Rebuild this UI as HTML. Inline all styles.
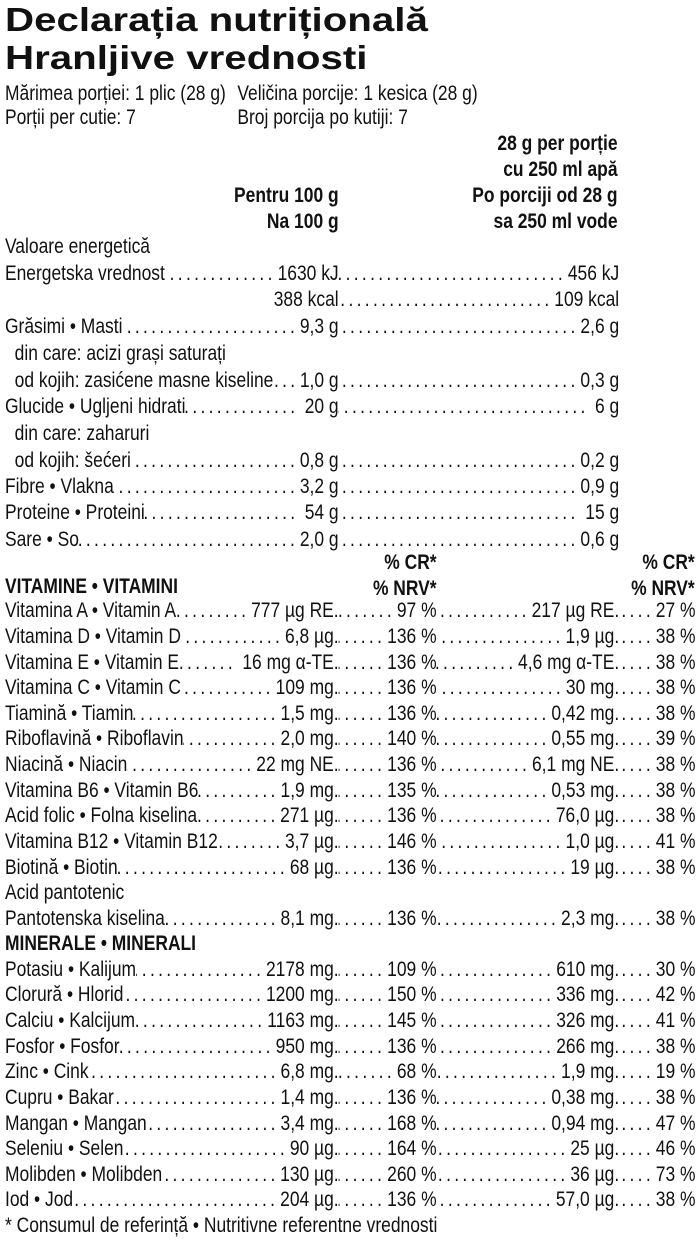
<!DOCTYPE html>
<html><head><meta charset="utf-8"><style>
body{margin:0;width:700px;height:1243px;background:#fff;position:relative;overflow:hidden;color:#111;font-family:"Liberation Sans",sans-serif}
.t{position:absolute;left:5px;font-weight:bold;font-size:33px;line-height:38px;transform:scaleX(1.22);transform-origin:0 0;white-space:nowrap}
#c{position:absolute;left:0;top:0;width:843px;height:1243px;transform:scaleX(0.83);transform-origin:0 0;font-size:21px}
.r{position:absolute;left:0;width:843px;height:26px;line-height:26px;white-space:nowrap}
.r>div{position:absolute;top:0;display:flex;height:26px}
.b1{left:6px;width:402px}.b2{left:408px;width:118px}.b3{left:526px;width:220px}.b4{left:746px;width:92px}.bw{left:408px;width:338px}
i{flex:1;overflow:hidden;font-style:normal;text-align:right;direction:rtl;letter-spacing:4px;padding:0 2px}
i::before{content:".........................................................................................."}
.p{position:absolute;left:6px}
.h{position:absolute;font-weight:bold;text-align:right;line-height:26px}
</style></head><body>
<div class="t" style="top:1px">Declarația nutrițională</div>
<div class="t" style="top:39px">Hranljive vrednosti</div>
<div id="c">
<div class="r" style="top:81px"><span class="p">Mărimea porției: 1 plic (28 g)</span><span style="position:absolute;left:286px">Veličina porcije: 1 kesica (28 g)</span></div>
<div class="r" style="top:105px"><span class="p">Porții per cutie: 7</span><span style="position:absolute;left:286px">Broj porcija po kutiji: 7</span></div>
<div class="h" style="right:99px;top:131px">28 g per porție<br>cu 250 ml apă<br>Po porciji od 28 g<br>sa 250 ml vode</div>
<div class="h" style="right:435px;top:183px">Pentru 100 g<br>Na 100 g</div>
<div class="r" style="top:234px"><span class="p">Valoare energetică</span></div>
<div class="r" style="top:261px"><div class="b1"><span>Energetska vrednost</span><i></i><span>1630 kJ</span></div><div class="bw"><i></i><span>456 kJ</span></div></div>
<div class="r" style="top:287px"><div class="b1"><span></span><i style="visibility:hidden"></i><span>388 kcal</span></div><div class="bw"><i></i><span>109 kcal</span></div></div>
<div class="r" style="top:314px"><div class="b1"><span>Grăsimi • Masti</span><i></i><span>9,3 g</span></div><div class="bw"><i></i><span>2,6 g</span></div></div>
<div class="r" style="top:341px"><span class="p">&nbsp;&nbsp;din care: acizi grași saturați</span></div>
<div class="r" style="top:368px"><div class="b1"><span>&nbsp;&nbsp;od kojih: zasićene masne kiseline</span><i></i><span>1,0 g</span></div><div class="bw"><i></i><span>0,3 g</span></div></div>
<div class="r" style="top:394px"><div class="b1"><span>Glucide • Ugljeni hidrati</span><i></i><span>&nbsp;20 g</span></div><div class="bw"><i></i><span>&nbsp;6 g</span></div></div>
<div class="r" style="top:421px"><span class="p">&nbsp;&nbsp;din care: zaharuri</span></div>
<div class="r" style="top:448px"><div class="b1"><span>&nbsp;&nbsp;od kojih: šećeri</span><i></i><span>0,8 g</span></div><div class="bw"><i></i><span>0,2 g</span></div></div>
<div class="r" style="top:474px"><div class="b1"><span>Fibre • Vlakna</span><i></i><span>3,2 g</span></div><div class="bw"><i></i><span>0,9 g</span></div></div>
<div class="r" style="top:500px"><div class="b1"><span>Proteine • Proteini</span><i></i><span>&nbsp;54 g</span></div><div class="bw"><i></i><span>&nbsp;15 g</span></div></div>
<div class="r" style="top:527px"><div class="b1"><span>Sare • So</span><i></i><span>2,0 g</span></div><div class="bw"><i></i><span>0,6 g</span></div></div>
<div class="h" style="right:317px;top:550px">% CR*<br>% NRV*</div>
<div class="h" style="right:6px;top:550px">% CR*<br>% NRV*</div>
<div class="r" style="top:574px;font-weight:bold"><span class="p">VITAMINE • VITAMINI</span></div>

<div class="r" style="top:598px"><div class="b1"><span>Vitamina A • Vitamin A</span><i></i><span>777 µg RE.</span></div><div class="b2"><i></i><span>97 %</span></div><div class="b3"><i></i><span>217 µg RE.</span></div><div class="b4"><i></i><span>27 %</span></div></div>
<div class="r" style="top:624px"><div class="b1"><span>Vitamina D • Vitamin D</span><i></i><span>6,8 µg.</span></div><div class="b2"><i></i><span>136 %</span></div><div class="b3"><i></i><span>1,9 µg.</span></div><div class="b4"><i></i><span>38 %</span></div></div>
<div class="r" style="top:650px"><div class="b1"><span>Vitamina E • Vitamin E</span><i></i><span>&nbsp;16 mg α-TE.</span></div><div class="b2"><i></i><span>136 %</span></div><div class="b3"><i></i><span>4,6 mg α-TE.</span></div><div class="b4"><i></i><span>38 %</span></div></div>
<div class="r" style="top:675px"><div class="b1"><span>Vitamina C • Vitamin C</span><i></i><span>109 mg.</span></div><div class="b2"><i></i><span>136 %</span></div><div class="b3"><i></i><span>30 mg.</span></div><div class="b4"><i></i><span>38 %</span></div></div>
<div class="r" style="top:701px"><div class="b1"><span>Tiamină • Tiamin</span><i></i><span>1,5 mg.</span></div><div class="b2"><i></i><span>136 %</span></div><div class="b3"><i></i><span>0,42 mg.</span></div><div class="b4"><i></i><span>38 %</span></div></div>
<div class="r" style="top:726px"><div class="b1"><span>Riboflavină • Riboflavin</span><i></i><span>2,0 mg.</span></div><div class="b2"><i></i><span>140 %</span></div><div class="b3"><i></i><span>0,55 mg.</span></div><div class="b4"><i></i><span>39 %</span></div></div>
<div class="r" style="top:752px"><div class="b1"><span>Niacină • Niacin</span><i></i><span>22 mg NE.</span></div><div class="b2"><i></i><span>136 %</span></div><div class="b3"><i></i><span>6,1 mg NE.</span></div><div class="b4"><i></i><span>38 %</span></div></div>
<div class="r" style="top:778px"><div class="b1"><span>Vitamina B6 • Vitamin B6</span><i></i><span>1,9 mg.</span></div><div class="b2"><i></i><span>135 %</span></div><div class="b3"><i></i><span>0,53 mg.</span></div><div class="b4"><i></i><span>38 %</span></div></div>
<div class="r" style="top:803px"><div class="b1"><span>Acid folic • Folna kiselina</span><i></i><span>271 µg.</span></div><div class="b2"><i></i><span>136 %</span></div><div class="b3"><i></i><span>76,0 µg.</span></div><div class="b4"><i></i><span>38 %</span></div></div>
<div class="r" style="top:829px"><div class="b1"><span>Vitamina B12 • Vitamin B12</span><i></i><span>3,7 µg.</span></div><div class="b2"><i></i><span>146 %</span></div><div class="b3"><i></i><span>1,0 µg.</span></div><div class="b4"><i></i><span>41 %</span></div></div>
<div class="r" style="top:855px"><div class="b1"><span>Biotină • Biotin</span><i></i><span>68 µg.</span></div><div class="b2"><i></i><span>136 %</span></div><div class="b3"><i></i><span>19 µg.</span></div><div class="b4"><i></i><span>38 %</span></div></div>
<div class="r" style="top:880px"><span class="p">Acid pantotenic</span></div>
<div class="r" style="top:906px"><div class="b1"><span>Pantotenska kiselina</span><i></i><span>8,1 mg.</span></div><div class="b2"><i></i><span>136 %</span></div><div class="b3"><i></i><span>2,3 mg.</span></div><div class="b4"><i></i><span>38 %</span></div></div>
<div class="r" style="top:931px;font-weight:bold"><span class="p">MINERALE • MINERALI</span></div>
<div class="r" style="top:957px"><div class="b1"><span>Potasiu • Kalijum</span><i></i><span>2178 mg.</span></div><div class="b2"><i></i><span>109 %</span></div><div class="b3"><i></i><span>610 mg.</span></div><div class="b4"><i></i><span>30 %</span></div></div>
<div class="r" style="top:982px"><div class="b1"><span>Clorură • Hlorid</span><i></i><span>1200 mg.</span></div><div class="b2"><i></i><span>150 %</span></div><div class="b3"><i></i><span>336 mg.</span></div><div class="b4"><i></i><span>42 %</span></div></div>
<div class="r" style="top:1008px"><div class="b1"><span>Calciu • Kalcijum</span><i></i><span>1163 mg.</span></div><div class="b2"><i></i><span>145 %</span></div><div class="b3"><i></i><span>326 mg.</span></div><div class="b4"><i></i><span>41 %</span></div></div>
<div class="r" style="top:1034px"><div class="b1"><span>Fosfor • Fosfor</span><i></i><span>950 mg.</span></div><div class="b2"><i></i><span>136 %</span></div><div class="b3"><i></i><span>266 mg.</span></div><div class="b4"><i></i><span>38 %</span></div></div>
<div class="r" style="top:1059px"><div class="b1"><span>Zinc • Cink</span><i></i><span>6,8 mg.</span></div><div class="b2"><i></i><span>68 %</span></div><div class="b3"><i></i><span>1,9 mg.</span></div><div class="b4"><i></i><span>19 %</span></div></div>
<div class="r" style="top:1085px"><div class="b1"><span>Cupru • Bakar</span><i></i><span>1,4 mg.</span></div><div class="b2"><i></i><span>136 %</span></div><div class="b3"><i></i><span>0,38 mg.</span></div><div class="b4"><i></i><span>38 %</span></div></div>
<div class="r" style="top:1111px"><div class="b1"><span>Mangan • Mangan</span><i></i><span>3,4 mg.</span></div><div class="b2"><i></i><span>168 %</span></div><div class="b3"><i></i><span>0,94 mg.</span></div><div class="b4"><i></i><span>47 %</span></div></div>
<div class="r" style="top:1136px"><div class="b1"><span>Seleniu • Selen</span><i></i><span>90 µg.</span></div><div class="b2"><i></i><span>164 %</span></div><div class="b3"><i></i><span>25 µg.</span></div><div class="b4"><i></i><span>46 %</span></div></div>
<div class="r" style="top:1162px"><div class="b1"><span>Molibden • Molibden</span><i></i><span>130 µg.</span></div><div class="b2"><i></i><span>260 %</span></div><div class="b3"><i></i><span>36 µg.</span></div><div class="b4"><i></i><span>73 %</span></div></div>
<div class="r" style="top:1187px"><div class="b1"><span>Iod • Jod</span><i></i><span>204 µg.</span></div><div class="b2"><i></i><span>136 %</span></div><div class="b3"><i></i><span>57,0 µg.</span></div><div class="b4"><i></i><span>38 %</span></div></div>
<div class="r" style="top:1213px"><span class="p">* Consumul de referință • Nutritivne referentne vrednosti</span></div>
</div>
</body></html>
